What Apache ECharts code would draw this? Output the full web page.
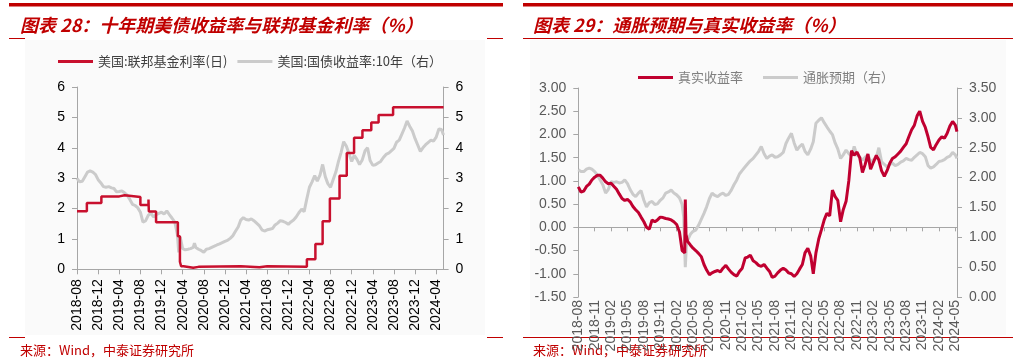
<!DOCTYPE html>
<html><head><meta charset="utf-8">
<script src="https://cdn.jsdelivr.net/npm/echarts@6/dist/echarts.min.js"></script>
<style>html,body{margin:0;padding:0;background:#fff}#c{width:1021px;height:360px}</style>
</head><body><div id="c"></div>
<script>
const leftTitle = '图表 28：十年期美债收益率与联邦基金利率（%）';
const rightTitle = '图表 29：通胀预期与真实收益率（%）';
const sourceText = '来源：Wind，中泰证券研究所';
const leftLegend = ['美国:联邦基金利率(日)', '美国:国债收益率:10年（右）'];
const rightLegend = ['真实收益率', '通胀预期（右）'];

const leftXLabels = ['2018-08','2018-12','2019-04','2019-08','2019-12','2020-04','2020-08','2020-12','2021-04','2021-08','2021-12','2022-04','2022-08','2022-12','2023-04','2023-08','2023-12','2024-04'];
const rightXLabels = ['2018-08','2018-11','2019-02','2019-05','2019-08','2019-11','2020-02','2020-05','2020-08','2020-11','2021-02','2021-05','2021-08','2021-11','2022-02','2022-05','2022-08','2022-11','2023-02','2023-05','2023-08','2023-11','2024-02','2024-05'];

// Fed funds effective rate: change points (date, new level)
const fedFundsRate = [['2018-08-01',1.91],['2018-09-27',2.18],['2018-12-20',2.40],['2019-04-01',2.44],['2019-05-02',2.38],['2019-08-01',2.12],['2019-09-17',2.30],['2019-09-19',1.90],['2019-10-31',1.55],['2020-03-04',1.09],['2020-03-16',0.25],['2020-03-23',0.10],['2020-04-06',0.05],['2020-06-01',0.08],['2020-07-01',0.10],['2021-03-01',0.07],['2021-06-17',0.10],['2021-08-01',0.08],['2022-03-17',0.33],['2022-05-05',0.83],['2022-06-16',1.58],['2022-07-28',2.33],['2022-09-22',3.08],['2022-11-03',3.83],['2022-12-15',4.33],['2023-02-02',4.58],['2023-03-23',4.83],['2023-05-04',5.08],['2023-07-27',5.33],['2024-05-13',5.33]];

const ust10y = [['2018-08-01',2.99],['2018-08-16',2.88],['2018-09-01',2.90],['2018-09-16',3.05],['2018-10-01',3.20],['2018-10-16',3.24],['2018-11-01',3.20],['2018-11-16',3.12],['2018-12-01',2.95],['2018-12-16',2.85],['2019-01-01',2.72],['2019-01-16',2.70],['2019-02-01',2.72],['2019-02-16',2.68],['2019-03-01',2.66],['2019-03-16',2.55],['2019-04-01',2.56],['2019-04-16',2.58],['2019-05-01',2.52],['2019-05-16',2.44],['2019-06-01',2.30],['2019-06-16',2.14],['2019-07-01',2.10],['2019-07-16',2.03],['2019-08-01',1.88],['2019-08-16',1.55],['2019-09-01',1.60],['2019-09-16',1.78],['2019-10-01',1.85],['2019-10-16',1.72],['2019-11-01',1.80],['2019-11-16',1.84],['2019-12-01',1.88],['2019-12-16',1.82],['2020-01-01',1.92],['2020-01-16',1.80],['2020-02-01',1.68],['2020-02-16',1.55],['2020-03-01',1.15],['2020-03-09',0.56],['2020-03-18',1.05],['2020-04-01',0.68],['2020-04-16',0.64],['2020-05-01',0.66],['2020-05-16',0.68],['2020-06-01',0.72],['2020-06-08',0.86],['2020-06-16',0.72],['2020-07-01',0.66],['2020-07-16',0.62],['2020-08-01',0.56],['2020-08-16',0.66],['2020-09-01',0.68],['2020-09-16',0.72],['2020-10-01',0.76],['2020-10-16',0.80],['2020-11-01',0.84],['2020-11-16',0.88],['2020-12-01',0.92],['2020-12-16',0.95],['2021-01-01',1.02],['2021-01-16',1.10],['2021-02-01',1.25],['2021-02-16',1.40],['2021-03-01',1.62],['2021-03-16',1.70],['2021-04-01',1.64],['2021-04-16',1.62],['2021-05-01',1.66],['2021-05-16',1.60],['2021-06-01',1.52],['2021-06-16',1.44],['2021-07-01',1.30],['2021-07-16',1.26],['2021-08-01',1.30],['2021-08-16',1.32],['2021-09-01',1.34],['2021-09-16',1.46],['2021-10-01',1.52],['2021-10-16',1.60],['2021-11-01',1.58],['2021-11-16',1.54],['2021-12-01',1.48],['2021-12-16',1.56],['2022-01-01',1.62],['2022-01-16',1.72],['2022-02-01',1.86],['2022-02-16',1.98],['2022-03-01',1.90],['2022-03-16',2.30],['2022-04-01',2.70],['2022-04-16',2.88],['2022-05-01',3.08],['2022-05-16',2.90],['2022-06-01',3.10],['2022-06-16',3.45],['2022-07-01',3.05],['2022-07-16',2.82],['2022-08-01',2.70],['2022-08-16',2.95],['2022-09-01',3.20],['2022-09-16',3.55],['2022-10-01',3.85],['2022-10-16',4.20],['2022-11-01',4.05],['2022-11-16',3.80],['2022-12-01',3.55],['2022-12-16',3.75],['2023-01-01',3.62],['2023-01-16',3.45],['2023-02-01',3.60],['2023-02-16',3.90],['2023-03-01',4.00],['2023-03-16',3.58],['2023-04-01',3.42],['2023-04-16',3.44],['2023-05-01',3.50],['2023-05-16',3.55],['2023-06-01',3.68],['2023-06-16',3.78],['2023-07-01',3.82],['2023-07-16',3.90],['2023-08-01',3.98],['2023-08-16',4.18],['2023-09-01',4.25],['2023-09-16',4.45],['2023-10-01',4.65],['2023-10-16',4.88],['2023-11-01',4.70],['2023-11-16',4.55],['2023-12-01',4.30],['2023-12-16',4.10],['2024-01-01',3.88],['2024-01-16',4.00],['2024-02-01',4.10],['2024-02-16',4.18],['2024-03-01',4.25],['2024-03-16',4.22],['2024-04-01',4.35],['2024-04-16',4.62],['2024-05-01',4.60],['2024-05-13',4.42]];

const realYield = [['2018-08-01',0.87],['2018-08-16',0.76],['2018-09-01',0.78],['2018-09-16',0.88],['2018-10-01',0.93],['2018-10-16',1.02],['2018-11-01',1.08],['2018-11-16',1.12],['2018-12-01',1.12],['2018-12-16',1.06],['2019-01-01',0.98],['2019-01-16',0.94],['2019-02-01',0.95],['2019-02-16',0.88],['2019-03-01',0.82],['2019-03-16',0.72],['2019-04-01',0.62],['2019-04-16',0.58],['2019-05-01',0.60],['2019-05-16',0.55],['2019-06-01',0.45],['2019-06-16',0.38],['2019-07-01',0.32],['2019-07-16',0.22],['2019-08-01',0.12],['2019-08-16',0.00],['2019-09-01',-0.04],['2019-09-16',0.16],['2019-10-01',0.12],['2019-10-16',0.16],['2019-11-01',0.22],['2019-11-16',0.21],['2019-12-01',0.19],['2019-12-16',0.18],['2020-01-01',0.16],['2020-01-16',0.12],['2020-02-01',0.06],['2020-02-16',-0.10],['2020-03-01',-0.50],['2020-03-16',-0.55],['2020-03-19',0.60],['2020-03-23',-0.15],['2020-04-01',-0.30],['2020-04-16',-0.38],['2020-05-01',-0.45],['2020-05-16',-0.50],['2020-06-01',-0.56],['2020-06-16',-0.63],['2020-07-01',-0.80],['2020-07-16',-0.92],['2020-08-01',-1.02],['2020-08-16',-0.98],['2020-09-01',-0.95],['2020-09-16',-0.93],['2020-10-01',-0.96],['2020-10-16',-0.88],['2020-11-01',-0.82],['2020-11-16',-0.90],['2020-12-01',-0.97],['2020-12-16',-1.02],['2021-01-01',-1.05],['2021-01-16',-0.95],['2021-02-01',-0.88],['2021-02-16',-0.66],['2021-03-01',-0.64],['2021-03-16',-0.60],['2021-04-01',-0.72],['2021-04-16',-0.76],['2021-05-01',-0.82],['2021-05-16',-0.84],['2021-06-01',-0.80],['2021-06-16',-0.88],['2021-07-01',-0.95],['2021-07-16',-1.08],['2021-08-01',-1.05],['2021-08-16',-0.98],['2021-09-01',-0.92],['2021-09-16',-0.88],['2021-10-01',-0.92],['2021-10-16',-0.98],['2021-11-01',-1.00],['2021-11-16',-1.06],['2021-12-01',-1.00],['2021-12-16',-0.90],['2022-01-01',-0.80],['2022-01-16',-0.55],['2022-02-01',-0.45],['2022-02-16',-0.62],['2022-03-01',-1.00],['2022-03-16',-0.55],['2022-04-01',-0.25],['2022-04-16',-0.05],['2022-05-01',0.16],['2022-05-16',0.30],['2022-06-01',0.25],['2022-06-16',0.80],['2022-07-01',0.66],['2022-07-16',0.58],['2022-08-01',0.12],['2022-08-16',0.38],['2022-09-01',0.56],['2022-09-16',1.00],['2022-10-01',1.65],['2022-10-16',1.55],['2022-11-01',1.62],['2022-11-16',1.50],['2022-12-01',1.18],['2022-12-16',1.35],['2023-01-01',1.58],['2023-01-16',1.25],['2023-02-01',1.40],['2023-02-16',1.55],['2023-03-01',1.45],['2023-03-16',1.22],['2023-04-01',1.10],['2023-04-16',1.22],['2023-05-01',1.38],['2023-05-16',1.48],['2023-06-01',1.52],['2023-06-16',1.58],['2023-07-01',1.64],['2023-07-16',1.72],['2023-08-01',1.80],['2023-08-16',1.95],['2023-09-01',2.10],['2023-09-16',2.20],['2023-10-01',2.40],['2023-10-16',2.50],['2023-11-01',2.28],['2023-11-16',2.15],['2023-12-01',1.95],['2023-12-16',1.72],['2024-01-01',1.67],['2024-01-16',1.78],['2024-02-01',1.88],['2024-02-16',1.95],['2024-03-01',1.92],['2024-03-16',2.02],['2024-04-01',2.18],['2024-04-16',2.28],['2024-05-01',2.20],['2024-05-10',2.06]];

const inflationExp = [['2018-08-01',2.13],['2018-08-16',2.10],['2018-09-01',2.10],['2018-09-16',2.14],['2018-10-01',2.16],['2018-10-16',2.14],['2018-11-01',2.10],['2018-11-16',2.04],['2018-12-01',1.96],['2018-12-16',1.88],['2019-01-01',1.74],['2019-01-16',1.80],['2019-02-01',1.93],['2019-02-16',1.92],['2019-03-01',1.93],['2019-03-16',1.91],['2019-04-01',1.92],['2019-04-16',1.96],['2019-05-01',1.90],['2019-05-16',1.80],['2019-06-01',1.72],['2019-06-16',1.68],['2019-07-01',1.74],['2019-07-16',1.78],['2019-08-01',1.62],['2019-08-16',1.51],['2019-09-01',1.58],['2019-09-16',1.60],['2019-10-01',1.55],['2019-10-16',1.56],['2019-11-01',1.62],['2019-11-16',1.66],['2019-12-01',1.74],['2019-12-16',1.76],['2020-01-01',1.79],['2020-01-16',1.74],['2020-02-01',1.71],['2020-02-16',1.66],['2020-03-01',1.55],['2020-03-10',1.34],['2020-03-19',0.50],['2020-03-25',0.85],['2020-04-01',0.95],['2020-04-16',1.05],['2020-05-01',1.10],['2020-05-16',1.12],['2020-06-01',1.20],['2020-06-16',1.30],['2020-07-01',1.40],['2020-07-16',1.51],['2020-08-01',1.65],['2020-08-16',1.74],['2020-09-01',1.70],['2020-09-16',1.68],['2020-10-01',1.72],['2020-10-16',1.74],['2020-11-01',1.70],['2020-11-16',1.72],['2020-12-01',1.79],['2020-12-16',1.88],['2021-01-01',1.96],['2021-01-16',2.06],['2021-02-01',2.12],['2021-02-16',2.18],['2021-03-01',2.23],['2021-03-16',2.28],['2021-04-01',2.32],['2021-04-16',2.38],['2021-05-01',2.44],['2021-05-16',2.52],['2021-06-01',2.40],['2021-06-16',2.32],['2021-07-01',2.36],['2021-07-16',2.38],['2021-08-01',2.34],['2021-08-16',2.35],['2021-09-01',2.38],['2021-09-16',2.42],['2021-10-01',2.57],['2021-10-16',2.66],['2021-11-01',2.74],['2021-11-16',2.58],['2021-12-01',2.46],['2021-12-16',2.52],['2022-01-01',2.56],['2022-01-16',2.44],['2022-02-01',2.38],['2022-02-16',2.48],['2022-03-01',2.60],['2022-03-16',2.91],['2022-04-01',2.96],['2022-04-16',3.00],['2022-05-01',2.92],['2022-05-16',2.85],['2022-06-01',2.78],['2022-06-16',2.72],['2022-07-01',2.58],['2022-07-16',2.48],['2022-08-01',2.32],['2022-08-16',2.38],['2022-09-01',2.46],['2022-09-16',2.40],['2022-10-01',2.36],['2022-10-16',2.52],['2022-11-01',2.38],['2022-11-16',2.34],['2022-12-01',2.29],['2022-12-16',2.34],['2023-01-01',2.38],['2023-01-16',2.27],['2023-02-01',2.30],['2023-02-16',2.34],['2023-03-01',2.50],['2023-03-16',2.27],['2023-04-01',2.22],['2023-04-16',2.18],['2023-05-01',2.22],['2023-05-16',2.24],['2023-06-01',2.20],['2023-06-16',2.22],['2023-07-01',2.26],['2023-07-16',2.28],['2023-08-01',2.32],['2023-08-16',2.30],['2023-09-01',2.29],['2023-09-16',2.34],['2023-10-01',2.38],['2023-10-16',2.42],['2023-11-01',2.40],['2023-11-16',2.35],['2023-12-01',2.20],['2023-12-16',2.16],['2024-01-01',2.18],['2024-01-16',2.22],['2024-02-01',2.27],['2024-02-16',2.28],['2024-03-01',2.30],['2024-03-16',2.34],['2024-04-01',2.36],['2024-04-16',2.42],['2024-05-01',2.38],['2024-05-10',2.32]];

function monthOffset(s) {
  const [y, m, d] = s.split('-').map(Number);
  const dim = new Date(y, m, 0).getDate();
  return (y - 2018) * 12 + (m - 8) + (d - 1) / dim;
}
const toXY = arr => arr.map(([d, v]) => [monthOffset(d), v]);
const pickLabel = (labels, step) => v => {
  const i = Math.round(v / step);
  return Math.abs(v - i * step) < 1e-6 && labels[i] !== undefined ? labels[i] : '';
};

const NUM_FONT = '"Liberation Sans", Arial, "Noto Sans CJK SC", sans-serif';
const CJK_FONT = '"Noto Sans CJK SC", sans-serif';
const RED = '#C00000';
const AXIS_GRAY = '#A6A6A6';

const chart = echarts.init(document.getElementById('c'), null, { renderer: 'canvas' });

function yAxisCfg(grid, pos, min, max, interval, color, fmt) {
  return {
    type: 'value', gridIndex: grid, position: pos, min, max, interval,
    axisLine: { show: true, lineStyle: { color: AXIS_GRAY, width: 1 } },
    axisTick: { show: true, length: 5, lineStyle: { color: AXIS_GRAY } },
    splitLine: { show: false },
    axisLabel: { fontSize: 14, color, fontFamily: NUM_FONT, margin: 12, formatter: fmt }
  };
}

const option = {
  animation: false,
  backgroundColor: '#fff',
  grid: [
    { left: 77, top: 87, width: 366.6, height: 182.3, containLabel: false, outerBoundsMode: 'none' },
    { left: 578.3, top: 88, width: 378.7, height: 209, containLabel: false, outerBoundsMode: 'none' }
  ],
  legend: [
    { data: leftLegend, left: 58, top: 55, icon: 'rect', itemWidth: 35, itemHeight: 3, itemGap: 10, padding: 0,
      textStyle: { fontSize: 13, color: '#404040', fontFamily: CJK_FONT } },
    { data: rightLegend, left: 638, top: 71, icon: 'rect', itemWidth: 35, itemHeight: 3, itemGap: 20, padding: 0,
      textStyle: { fontSize: 13, color: '#7F7F7F', fontFamily: CJK_FONT } }
  ],
  xAxis: [
    { type: 'value', gridIndex: 0, min: 0, max: 69.4, interval: 4,
      axisLine: { onZero: false, lineStyle: { color: AXIS_GRAY } },
      axisTick: { length: 5, lineStyle: { color: AXIS_GRAY } },
      splitLine: { show: false },
      axisLabel: { rotate: 90, margin: 10, fontSize: 14, color: '#000', fontFamily: NUM_FONT,
        showMaxLabel: false, formatter: pickLabel(leftXLabels, 4) } },
    { type: 'value', gridIndex: 1, min: 0, max: 69.3, interval: 3,
      axisLine: { onZero: true, onZeroAxisIndex: 2, lineStyle: { color: AXIS_GRAY } },
      axisTick: { length: 4, lineStyle: { color: AXIS_GRAY } },
      splitLine: { show: false },
      axisLabel: { rotate: 90, margin: 3, fontSize: 14, color: '#595959', fontFamily: NUM_FONT,
        showMaxLabel: false, formatter: pickLabel(rightXLabels, 3) } }
  ],
  yAxis: [
    yAxisCfg(0, 'left', 0, 6, 1, '#000', v => String(v)),
    yAxisCfg(0, 'right', 0, 6, 1, '#000', v => String(v)),
    yAxisCfg(1, 'left', -1.5, 3, 0.5, '#595959', v => v.toFixed(2)),
    yAxisCfg(1, 'right', 0, 3.5, 0.5, '#595959', v => v.toFixed(2))
  ],
  series: [
    { name: leftLegend[1], type: 'line', xAxisIndex: 0, yAxisIndex: 1, data: toXY(ust10y), symbol: 'none',
      lineStyle: { color: '#CBCBCB', width: 3 }, itemStyle: { color: '#CBCBCB' }, z: 2 },
    { name: leftLegend[0], type: 'line', step: 'end', xAxisIndex: 0, yAxisIndex: 0, data: toXY(fedFundsRate), symbol: 'none',
      lineStyle: { color: '#C8102E', width: 2.5 }, itemStyle: { color: '#C8102E' }, z: 3 },
    { name: rightLegend[1], type: 'line', xAxisIndex: 1, yAxisIndex: 3, data: toXY(inflationExp), symbol: 'none',
      lineStyle: { color: '#CBCBCB', width: 3 }, itemStyle: { color: '#CBCBCB' }, z: 2 },
    { name: rightLegend[0], type: 'line', xAxisIndex: 1, yAxisIndex: 2, data: toXY(realYield), symbol: 'none',
      lineStyle: { color: '#C00030', width: 3 }, itemStyle: { color: '#C00030' }, z: 3 }
  ],
  graphic: [
    { type: 'rect', z: -100, shape: { x: 25, y: 40, width: 460, height: 295 }, style: { fill: '#FAFAFA' } },
    { type: 'rect', z: -100, shape: { x: 530, y: 40, width: 476, height: 295 }, style: { fill: '#FAFAFA' } },
    { type: 'rect', shape: { x: 9, y: 3, width: 494, height: 3.5 }, style: { fill: RED } },
    { type: 'rect', shape: { x: 523, y: 3, width: 490, height: 3.5 }, style: { fill: RED } },
    { type: 'line', shape: { x1: 9, y1: 38.5, x2: 25, y2: 38.5 }, style: { stroke: RED, lineWidth: 1 } },
    { type: 'line', shape: { x1: 487, y1: 38.5, x2: 503, y2: 38.5 }, style: { stroke: RED, lineWidth: 1 } },
    { type: 'line', shape: { x1: 9, y1: 337.5, x2: 25, y2: 337.5 }, style: { stroke: RED, lineWidth: 1 } },
    { type: 'line', shape: { x1: 487, y1: 337.5, x2: 503, y2: 337.5 }, style: { stroke: RED, lineWidth: 1 } },
    { type: 'line', shape: { x1: 523, y1: 38.5, x2: 1013, y2: 38.5 }, style: { stroke: RED, lineWidth: 1 } },
    { type: 'line', shape: { x1: 523, y1: 337.5, x2: 1013, y2: 337.5 }, style: { stroke: RED, lineWidth: 1 } },
    { type: 'text', x: 20, y: 25, style: { text: leftTitle, fill: RED, fontSize: 18, fontWeight: 'bold', fontStyle: 'italic',
      fontFamily: CJK_FONT, verticalAlign: 'middle', textVerticalAlign: 'middle' } },
    { type: 'text', x: 533, y: 25, style: { text: rightTitle, fill: RED, fontSize: 18, fontWeight: 'bold', fontStyle: 'italic',
      fontFamily: CJK_FONT, verticalAlign: 'middle', textVerticalAlign: 'middle' } },
    { type: 'text', x: 20, y: 350, style: { text: sourceText, fill: RED, fontSize: 13, fontFamily: CJK_FONT,
      verticalAlign: 'middle', textVerticalAlign: 'middle' } },
    { type: 'text', x: 533, y: 350, style: { text: sourceText, fill: RED, fontSize: 13, fontFamily: CJK_FONT,
      verticalAlign: 'middle', textVerticalAlign: 'middle' } }
  ]
};
chart.setOption(option);
</script></body></html>
